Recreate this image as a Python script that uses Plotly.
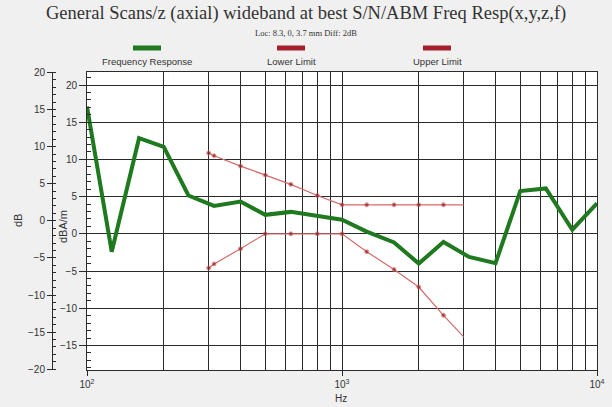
import plotly.graph_objects as go

# ---- data ----
freq_resp_hz = [100, 125, 160, 200, 250, 315, 400, 500, 630, 800, 1000,
                1250, 1600, 2000, 2500, 3150, 4000, 5000, 6300, 8000, 10000]
freq_resp_db = [17.1, -2.4, 12.85, 11.7, 5.15, 3.75, 4.35, 2.55, 2.95, 2.45, 1.9,
                0.3, -1.15, -4.0, -1.1, -3.1, -3.95, 5.75, 6.1, 0.55, 4.1]

limit_hz = [300, 315, 400, 500, 630, 800, 1000, 1250, 1600, 2000, 2500, 3000]
upper_limit_db = [10.85, 10.5, 9.1, 7.9, 6.65, 5.15, 3.9, 3.9, 3.9, 3.9, 3.9, 3.9]
lower_limit_db = [-4.6, -4.05, -2.0, 0, 0, 0, 0, -2.4, -4.8, -7.15, -10.95, -13.85]

x_tick_vals = [100, 1000, 10000]
x_tick_text = ["10<sup>2</sup>", "10<sup>3</sup>", "10<sup>4</sup>"]
x_minor_vals = [200, 300, 400, 500, 600, 700, 800, 900,
                2000, 3000, 4000, 5000, 6000, 7000, 8000, 9000]
y_tick_vals = [-15, -10, -5, 0, 5, 10, 15, 20]
y2_tick_vals = [-20, -15, -10, -5, 0, 5, 10, 15, 20]

title_text = "General Scans/z (axial) wideband at best S/N/ABM Freq Resp(x,y,z,f)"
subtitle_text = "Loc: 8.3, 0, 3.7 mm Diff: 2dB"
legend_names = ["Frequency Response", "Lower Limit", "Upper Limit"]

# ---- style ----
GREEN = "#1f7a1f"
RED_LINE = "#d46a6a"
RED_MARK = "#8b1a1a"
LEG_RED = "#a3202c"
GRID = "#2b2b2b"
W, H = 612, 407
ML, MR, MT, MB = 0, 15, 72, 37
PW = W - ML - MR
x0 = 87 / PW

fig = go.Figure()
fig.add_trace(go.Scatter(x=freq_resp_hz, y=freq_resp_db, mode="lines",
                         line=dict(color=GREEN, width=4), showlegend=False))
msize = [4] * (len(limit_hz) - 1) + [0]
fig.add_trace(go.Scatter(x=limit_hz, y=upper_limit_db, mode="lines+markers",
                         line=dict(color=RED_LINE, width=1.2),
                         marker=dict(color=RED_MARK, size=msize), showlegend=False))
fig.add_trace(go.Scatter(x=limit_hz, y=lower_limit_db, mode="lines+markers",
                         line=dict(color=RED_LINE, width=1.2),
                         marker=dict(color=RED_MARK, size=msize), showlegend=False))
# empty trace so the outer dB axis is drawn
fig.add_trace(go.Scatter(x=[], y=[], yaxis="y2", showlegend=False))

axis_font = dict(family="Liberation Sans, Arial", size=10, color="#333333")

fig.update_layout(
    width=W, height=H,
    margin=dict(l=ML, r=MR, t=MT, b=MB),
    paper_bgcolor="#f0f0f0", plot_bgcolor="#ffffff",
    showlegend=False,
    xaxis=dict(type="log", range=[2, 4], domain=[x0, 1],
               tickmode="array", tickvals=x_tick_vals, ticktext=x_tick_text,
               ticks="outside", ticklen=5, tickcolor=GRID,
               showgrid=True, gridcolor=GRID, gridwidth=1,
               showline=True, linecolor=GRID, linewidth=1, mirror=True,
               zeroline=False, tickfont=axis_font, automargin=False,
               minor=dict(tickmode="array", tickvals=x_minor_vals,
                          showgrid=True, gridcolor=GRID, gridwidth=1, ticks="")),
    yaxis=dict(range=[-18.3, 21.75], tickmode="array", tickvals=y_tick_vals,
               ticks="outside", ticklen=7, tickcolor=GRID,
               showgrid=True, gridcolor=GRID, gridwidth=1,
               showline=True, linecolor=GRID, linewidth=1, mirror=True,
               zeroline=False, tickfont=axis_font, automargin=False,
               minor=dict(dtick=1, ticks="inside", ticklen=4, tickcolor=GRID,
                          showgrid=False)),
    yaxis2=dict(range=[-20.1, 20.05], overlaying="y", anchor="free", side="left",
                position=52 / PW, tickmode="array", tickvals=y2_tick_vals,
                ticks="outside", ticklen=5, tickcolor=GRID,
                showgrid=False, zeroline=False,
                showline=True, linecolor=GRID, linewidth=1,
                tickfont=axis_font, automargin=False,
                minor=dict(dtick=1, ticks="inside", ticklen=3, tickcolor=GRID)),
)

annotations = [
    dict(text=title_text, x=306, y=14, font=dict(family="Liberation Serif", size=18.5, color="#333333")),
    dict(text=subtitle_text, x=306, y=33, font=dict(family="Liberation Serif", size=8.5, color="#333333")),
    dict(text="Hz", x=341, y=398, font=axis_font),
    dict(text="dB", x=18, y=221, textangle=-90, font=dict(family="Liberation Sans, Arial", size=11, color="#333333")),
    dict(text="dBA/m", x=63, y=227, textangle=-90, font=dict(family="Liberation Sans, Arial", size=11, color="#333333")),
]
leg_centers = [147, 291, 437]
leg_colors = [GREEN, LEG_RED, LEG_RED]
shapes = []
for name, cx, col in zip(legend_names, leg_centers, leg_colors):
    annotations.append(dict(text=name, x=cx, y=62,
                            font=dict(family="Liberation Sans, Arial", size=9.5, color="#333333")))
    shapes.append(dict(type="rect", xref="paper", yref="paper",
                       x0=(cx - 14 - ML) / PW, x1=(cx + 14 - ML) / PW,
                       y0=(H - MB - 50.5) / (H - MT - MB), y1=(H - MB - 45.5) / (H - MT - MB),
                       fillcolor=col, line=dict(width=0)))

ph = H - MT - MB
ann_list = []
for a in annotations:
    px, py = a.pop("x"), a.pop("y")
    ann_list.append(dict(xref="paper", yref="paper",
                         x=(px - ML) / PW, y=(H - MB - py) / ph,
                         xanchor="center", yanchor="middle", showarrow=False, **a))
fig.update_layout(annotations=ann_list, shapes=shapes)

fig.write_html("out.html", config={"displayModeBar": False},
               post_script="document.body.style.margin='0';document.body.style.overflow='hidden';")
